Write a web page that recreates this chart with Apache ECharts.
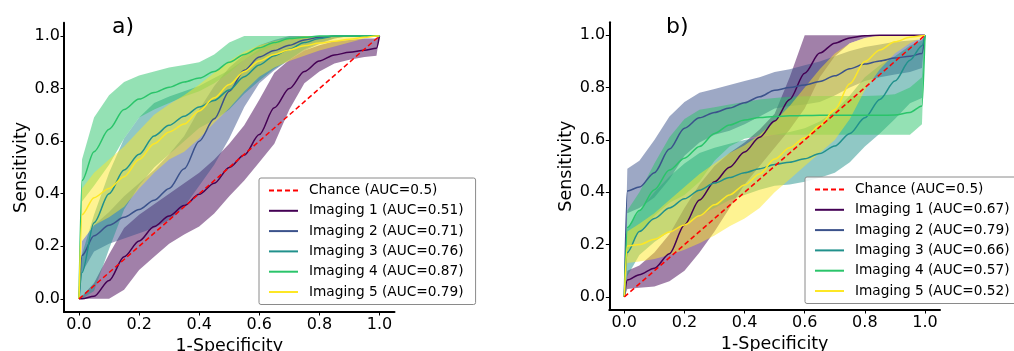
<!DOCTYPE html>
<html><head><meta charset="utf-8">
<script src="https://cdn.jsdelivr.net/npm/echarts@6/dist/echarts.min.js"></script>
<style>html,body{margin:0;padding:0;background:#fff}#c{width:1014px;height:351px}</style>
</head><body><div id="c"></div>
<script>
// x grid (1-Specificity)
const FPR = [0,0.01,0.05,0.1,0.15,0.2,0.25,0.3,0.35,0.4,0.45,0.5,0.55,0.6,0.65,0.7,0.75,0.8,0.85,0.9,0.95,0.99,1];
const TICKS = [0,0.2,0.4,0.6,0.8,1.0];
const NAMES = ['Imaging 1','Imaging 2','Imaging 3','Imaging 4','Imaging 5'];
const AUC_A = ['0.51','0.71','0.76','0.87','0.79'];
const AUC_B = ['0.67','0.79','0.66','0.57','0.52'];
const CHANCE_LABEL = 'Chance (AUC=0.5)';
const CHANCE_X = [0,1];
const CHANCE_Y = [0,1];

// Panel a
const A1_MEAN = [0,0,0.01,0.07,0.16,0.22,0.275,0.315,0.355,0.398,0.44,0.50,0.547,0.625,0.727,0.80,0.865,0.905,0.928,0.938,0.946,0.953,1];
const A1_UP   = [0,0.01,0.06,0.17,0.27,0.32,0.36,0.40,0.44,0.48,0.53,0.59,0.66,0.757,0.86,0.91,0.945,0.965,0.98,0.985,0.99,0.99,1];
const A1_LO   = [0,0,0,0,0.035,0.11,0.16,0.21,0.245,0.275,0.325,0.39,0.45,0.52,0.59,0.72,0.82,0.865,0.895,0.91,0.92,0.925,1];
const A2_MEAN = [0,0.165,0.24,0.28,0.31,0.34,0.375,0.42,0.495,0.60,0.685,0.79,0.87,0.92,0.945,0.965,0.985,0.995,1,1,1,1,1];
const A2_UP   = [0,0.22,0.28,0.33,0.39,0.44,0.49,0.55,0.62,0.72,0.81,0.88,0.93,0.965,0.985,1,1,1,1,1,1,1,1];
const A2_LO   = [0,0.10,0.18,0.21,0.23,0.25,0.27,0.30,0.35,0.43,0.51,0.61,0.73,0.82,0.87,0.91,0.945,0.97,0.99,1,1,1,1];
const A3_MEAN = [0,0.10,0.29,0.40,0.49,0.55,0.62,0.66,0.695,0.73,0.755,0.795,0.845,0.89,0.925,0.95,0.975,0.99,1,1,1,1,1];
const A3_UP   = [0,0.17,0.32,0.48,0.61,0.69,0.745,0.77,0.79,0.81,0.84,0.87,0.91,0.95,0.975,0.99,1,1,1,1,1,1,1];
const A3_LO   = [0,0,0.03,0.19,0.34,0.43,0.50,0.55,0.60,0.65,0.68,0.72,0.78,0.83,0.875,0.91,0.95,0.975,0.99,1,1,1,1];
const A4_MEAN = [0,0.45,0.56,0.645,0.72,0.76,0.785,0.805,0.825,0.84,0.865,0.90,0.93,0.955,0.975,0.99,0.995,1,1,1,1,1,1];
const A4_UP   = [0,0.53,0.69,0.775,0.825,0.85,0.865,0.88,0.89,0.90,0.93,0.975,1,1,1,1,1,1,1,1,1,1,1];
const A4_LO   = [0,0.37,0.43,0.51,0.61,0.69,0.72,0.745,0.77,0.79,0.82,0.86,0.91,0.94,0.965,0.985,0.99,1,1,1,1,1,1];
const A5_MEAN = [0,0.32,0.385,0.42,0.465,0.53,0.59,0.635,0.665,0.715,0.765,0.815,0.865,0.905,0.93,0.948,0.963,0.973,0.98,0.988,0.995,1,1];
const A5_UP   = [0,0.42,0.48,0.53,0.58,0.64,0.70,0.74,0.775,0.815,0.86,0.905,0.94,0.965,0.98,0.99,1,1,1,1,1,1,1];
const A5_LO   = [0,0.22,0.28,0.31,0.35,0.42,0.48,0.53,0.56,0.61,0.67,0.725,0.79,0.845,0.88,0.905,0.925,0.945,0.96,0.975,0.99,1,1];

// Panel b
const B1_MEAN = [0,0.065,0.085,0.11,0.165,0.275,0.37,0.44,0.496,0.554,0.61,0.672,0.755,0.855,0.932,0.97,0.99,0.998,1,1,1,1,1];
const B1_UP   = [0,0.10,0.12,0.17,0.24,0.34,0.43,0.50,0.55,0.59,0.64,0.70,0.84,1,1,1,1,1,1,1,1,1,1];
const B1_LO   = [0,0.03,0.035,0.04,0.06,0.10,0.17,0.25,0.34,0.43,0.50,0.57,0.64,0.72,0.84,0.92,0.97,0.99,1,1,1,1,1];
const B2_MEAN = [0,0.405,0.42,0.475,0.565,0.645,0.685,0.705,0.722,0.742,0.765,0.79,0.80,0.81,0.823,0.845,0.872,0.89,0.902,0.913,0.92,0.93,1];
const B2_UP   = [0,0.49,0.52,0.60,0.69,0.745,0.78,0.795,0.81,0.825,0.84,0.86,0.87,0.885,0.90,0.92,0.94,0.955,0.965,0.975,0.98,0.985,1];
const B2_LO   = [0,0.32,0.34,0.38,0.45,0.54,0.59,0.62,0.635,0.66,0.69,0.72,0.73,0.735,0.745,0.77,0.80,0.825,0.84,0.85,0.86,0.875,1];
const B3_MEAN = [0,0.17,0.25,0.30,0.34,0.375,0.408,0.435,0.456,0.475,0.49,0.506,0.515,0.528,0.548,0.577,0.625,0.685,0.755,0.825,0.905,0.96,1];
const B3_UP   = [0,0.26,0.33,0.40,0.46,0.51,0.55,0.57,0.585,0.60,0.61,0.62,0.63,0.645,0.67,0.71,0.77,0.84,0.885,0.92,0.96,0.98,1];
const B3_LO   = [0,0.08,0.16,0.21,0.25,0.28,0.31,0.34,0.37,0.39,0.41,0.425,0.43,0.44,0.455,0.475,0.515,0.575,0.625,0.68,0.74,0.76,1];
const B4_MEAN = [0,0.265,0.33,0.41,0.485,0.53,0.575,0.625,0.657,0.676,0.686,0.69,0.692,0.693,0.694,0.694,0.694,0.694,0.694,0.695,0.705,0.73,1];
const B4_UP   = [0,0.33,0.40,0.51,0.61,0.68,0.715,0.725,0.735,0.745,0.755,0.76,0.765,0.767,0.768,0.768,0.768,0.768,0.77,0.775,0.80,0.84,1];
const B4_LO   = [0,0.17,0.25,0.31,0.36,0.39,0.44,0.52,0.575,0.605,0.615,0.62,0.62,0.62,0.62,0.62,0.62,0.62,0.62,0.62,0.62,0.66,1];
const B5_MEAN = [0,0.195,0.20,0.22,0.248,0.275,0.31,0.352,0.39,0.428,0.47,0.527,0.57,0.608,0.655,0.715,0.815,0.90,0.944,0.975,0.992,0.998,1];
const B5_UP   = [0,0.25,0.28,0.32,0.37,0.42,0.47,0.51,0.55,0.58,0.62,0.67,0.73,0.80,0.87,0.93,0.97,0.99,1,1,1,1,1];
const B5_LO   = [0,0.13,0.135,0.145,0.16,0.18,0.205,0.235,0.27,0.30,0.34,0.40,0.45,0.50,0.55,0.60,0.68,0.79,0.87,0.93,0.97,0.99,1];

const COLORS = ['#440154','#3b528b','#21918c','#2ac46a','#fde725'];
const FONT = 'DejaVu Sans';

const PANELS = [
  {auc: AUC_A, mean:[A1_MEAN,A2_MEAN,A3_MEAN,A4_MEAN,A5_MEAN], up:[A1_UP,A2_UP,A3_UP,A4_UP,A5_UP], lo:[A1_LO,A2_LO,A3_LO,A4_LO,A5_LO]},
  {auc: AUC_B, mean:[B1_MEAN,B2_MEAN,B3_MEAN,B4_MEAN,B5_MEAN], up:[B1_UP,B2_UP,B3_UP,B4_UP,B5_UP], lo:[B1_LO,B2_LO,B3_LO,B4_LO,B5_LO]}
];

function rgba(hex, a){
  const n = parseInt(hex.slice(1),16);
  return 'rgba(' + ((n>>16)&255) + ',' + ((n>>8)&255) + ',' + (n&255) + ',' + a + ')';
}

function xAxisCfg(gi){
  return {type:'value', gridIndex:gi, min:-0.05, max:1.05,
    name:'1-Specificity', nameLocation:'middle', nameGap:23,
    nameTextStyle:{fontSize:17.5, color:'#000', fontFamily:FONT},
    axisLine:{show:true, onZero:false, lineStyle:{color:'#000', width:2}},
    axisTick:{show:true, customValues:TICKS, length:3.5, lineStyle:{color:'#000', width:1}},
    axisLabel:{customValues:TICKS, formatter:v=>(+v).toFixed(1), fontSize:16, color:'#000', fontFamily:FONT, margin:5},
    splitLine:{show:false}};
}
function yAxisCfg(gi){
  return {type:'value', gridIndex:gi, min:-0.05, max:1.05,
    name:'Sensitivity', nameLocation:'middle', nameGap:34, nameRotate:90,
    nameTextStyle:{fontSize:17.5, color:'#000', fontFamily:FONT},
    axisLine:{show:true, onZero:false, lineStyle:{color:'#000', width:2}},
    axisTick:{show:true, customValues:TICKS, length:3.5, lineStyle:{color:'#000', width:1}},
    axisLabel:{customValues:TICKS, formatter:v=>(+v).toFixed(1), fontSize:16, color:'#000', fontFamily:FONT, margin:4},
    splitLine:{show:false}};
}

const series = [];
const legends = [];
PANELS.forEach((p, gi) => {
  const names = [CHANCE_LABEL];
  for (let k = 0; k < 5; k++) {
    const label = NAMES[k] + ' (AUC=' + p.auc[k] + ')';
    names.push(label);
    const mean = p.mean[k], up = p.up[k], lo = p.lo[k], color = COLORS[k];
    series.push({type:'line', name:label, xAxisIndex:gi, yAxisIndex:gi,
      data: FPR.map((x,i)=>[x, mean[i]]), symbol:'none', showSymbol:false,
      smooth:0.3, smoothMonotone:'x',
      lineStyle:{color:color, width:1.5}, itemStyle:{color:color}, z:2});
    series.push({type:'custom', name:'band'+gi+k, xAxisIndex:gi, yAxisIndex:gi, silent:true, z:2,
      data:[[0,0]],
      renderItem:(params, api) => {
        const pts = [];
        for (let i = 0; i < FPR.length; i++) pts.push(api.coord([FPR[i], up[i]]));
        for (let i = FPR.length-1; i >= 0; i--) pts.push(api.coord([FPR[i], lo[i]]));
        return {type:'polygon', shape:{points:pts}, style:{fill:rgba(color,0.5), stroke:null}};
      }});
  }
  series.push({type:'line', name:CHANCE_LABEL, xAxisIndex:gi, yAxisIndex:gi,
    data: CHANCE_X.map((x,i)=>[x, CHANCE_Y[i]]), symbol:'none', showSymbol:false,
    lineStyle:{color:'#ff0000', width:1.5, type:[5,3]}, itemStyle:{color:'#ff0000'}, z:3});
  legends.push(names);
});

const legendCommon = {orient:'vertical', padding:[5.5,12,5.5,9], itemGap:6.3, itemWidth:29, itemHeight:14,
  backgroundColor:'rgba(255,255,255,0.85)', borderColor:'#8a8a8a', borderWidth:1, borderRadius:2,
  textStyle:{fontSize:13.7, fontFamily:FONT, color:'#000', padding:[0,0,0,6]},
  itemStyle:{opacity:0}, selectedMode:false};

const chart = echarts.init(document.getElementById('c'), null, {renderer:'canvas'});
chart.setOption({
  animation:false,
  backgroundColor:'#fff',
  title:[
    {text:'a)', left:112, top:16, padding:0, textStyle:{fontSize:22, fontWeight:'normal', fontFamily:FONT, color:'#000'}},
    {text:'b)', left:666, top:16, padding:0, textStyle:{fontSize:22, fontWeight:'normal', fontFamily:FONT, color:'#000'}}
  ],
  grid:[
    {left:64, right:619.5, top:22.85, bottom:39, containLabel:false, outerBoundsMode:'none'},
    {left:609.3, right:74, top:22.2, bottom:41, containLabel:false, outerBoundsMode:'none'}
  ],
  xAxis:[xAxisCfg(0), xAxisCfg(1)],
  yAxis:[yAxisCfg(0), yAxisCfg(1)],
  legend:[
    Object.assign({}, legendCommon, {data:legends[0], left:259, top:178}),
    Object.assign({}, legendCommon, {data:legends[1], left:805, top:177})
  ],
  series:series
});
</script>
</body></html>
